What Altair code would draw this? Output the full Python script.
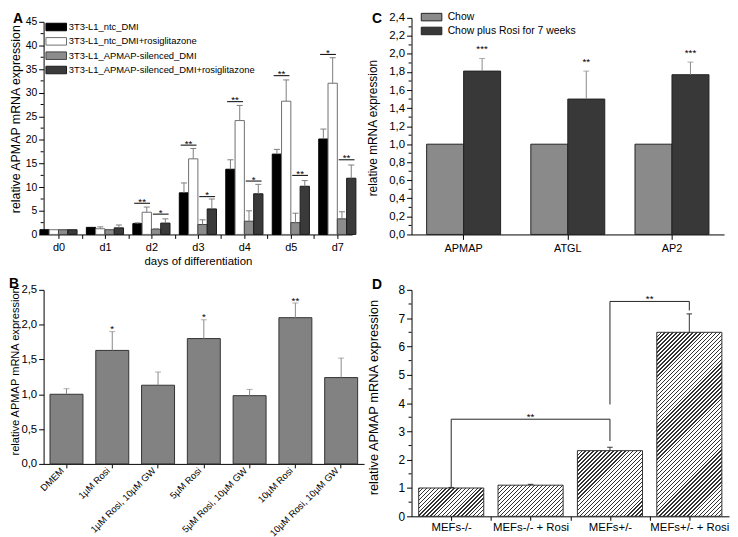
import json
import altair as alt
import pandas as pd

FONT = "Liberation Sans"

# ---------------- Panel A data ----------------
days = ["d0", "d1", "d2", "d3", "d4", "d5", "d7"]
a_series = ["3T3-L1_ntc_DMI", "3T3-L1_ntc_DMI+rosiglitazone",
            "3T3-L1_APMAP-silenced_DMI", "3T3-L1_APMAP-silenced_DMI+rosiglitazone"]
a_ntc_dmi = [1.0, 1.5, 2.3, 8.8, 13.8, 17.0, 20.2]
a_ntc_dmi_err = [0.0, 0.0, 0.15, 2.1, 2.0, 1.0, 2.1]
a_ntc_rosi = [1.0, 1.2, 4.7, 16.0, 24.1, 28.2, 32.0]
a_ntc_rosi_err = [0.0, 0.4, 1.1, 2.2, 3.2, 4.5, 5.4]
a_sil_dmi = [1.0, 1.0, 1.1, 2.1, 2.8, 2.5, 3.3]
a_sil_dmi_err = [0.0, 0.0, 0.1, 1.0, 2.2, 2.0, 1.5]
a_sil_rosi = [1.0, 1.4, 2.4, 5.4, 8.6, 10.2, 11.9]
a_sil_rosi_err = [0.0, 0.6, 0.9, 2.1, 2.0, 1.2, 2.8]
a_sig_day = ["d2", "d2", "d3", "d3", "d4", "d4", "d5", "d5", "d7", "d7"]
a_sig_pair = ["ntc", "sil", "ntc", "sil", "ntc", "sil", "ntc", "sil", "ntc", "sil"]
a_sig_y = [6.6, 4.3, 18.9, 8.0, 28.1, 11.3, 33.6, 12.5, 38.1, 15.8]
a_sig_text = ["**", "*", "**", "*", "**", "*", "**", "**", "*", "**"]
a_yticks = [0, 5, 10, 15, 20, 25, 30, 35, 40, 45]
a_yminor = [2.5, 7.5, 12.5, 17.5, 22.5, 27.5, 32.5, 37.5, 42.5]

# ---------------- Panel B data ----------------
b_cats = ["DMEM", "1µM Rosi", "1µM Rosi, 10µM GW", "5µM Rosi",
          "5µM Rosi, 10µM GW", "10µM Rosi", "10µM Rosi, 10µM GW"]
b_vals = [1.0, 1.63, 1.13, 1.80, 0.98, 2.10, 1.24]
b_err = [0.08, 0.27, 0.19, 0.27, 0.09, 0.21, 0.28]
b_sig = ["", "*", "", "*", "", "**", ""]
b_yticks = [0.0, 0.5, 1.0, 1.5, 2.0, 2.5]

# ---------------- Panel C data ----------------
c_genes = ["APMAP", "ATGL", "AP2"]
c_series = ["Chow", "Chow plus Rosi for 7 weeks"]
c_chow = [1.0, 1.0, 1.0]
c_rosi = [1.81, 1.50, 1.77]
c_rosi_err = [0.14, 0.31, 0.14]
c_sig = ["***", "**", "***"]
c_yticks = [0.0, 0.2, 0.4, 0.6, 0.8, 1.0, 1.2, 1.4, 1.6, 1.8, 2.0, 2.2, 2.4]
c_yminor = [0.1, 0.3, 0.5, 0.7, 0.9, 1.1, 1.3, 1.5, 1.7, 1.9, 2.1, 2.3]

# ---------------- Panel D data ----------------
d_cats = ["MEFs-/-", "MEFs-/- + Rosi", "MEFs+/-", "MEFs+/- + Rosi"]
d_vals = [1.0, 1.1, 2.32, 6.5]
d_err = [0.02, 0.03, 0.12, 0.65]
d_br_from = ["MEFs-/-", "MEFs+/-"]
d_br_to = ["MEFs+/-", "MEFs+/- + Rosi"]
d_br_top = [3.43, 7.59]
d_br_left_bottom = [1.03, 3.95]
d_br_right_bottom = [2.66, 7.27]
d_br_text = ["**", "**"]
d_yticks = [0, 1, 2, 3, 4, 5, 6, 7, 8]
d_yminor = [0.5, 1.5, 2.5, 3.5, 4.5, 5.5, 6.5, 7.5]

COMMA1 = "replace(format(datum.value, '.1f'), '.', ',')"


def letter(t, x, y):
    return alt.Chart(pd.DataFrame({"t": [t]})).mark_text(
        fontSize=14, fontWeight="bold", align="left", baseline="alphabetic", color="#000"
    ).encode(text="t:N", x=alt.value(x), y=alt.value(y))


def minor_layer(vals, yaxis):
    return alt.Chart(pd.DataFrame({"m": vals})).mark_rule(color="#000", strokeWidth=1).encode(
        y=alt.Y("m:Q", axis=yaxis), x=alt.value(-3), x2=alt.value(0))


# ================= Panel A =================
A_W, A_H, A_TOP = 312, 217, 2
a_bw = 0.2
a_vals = [a_ntc_dmi, a_ntc_rosi, a_sil_dmi, a_sil_rosi]
a_errs = [a_ntc_dmi_err, a_ntc_rosi_err, a_sil_dmi_err, a_sil_rosi_err]
a_fill = ["#000000", "#ffffff", "#8c8c8c", "#3a3a3a"]
a_stroke = ["#000000", "#6e6e6e", "#444444", "#1a1a1a"]
rows = []
for k, name in enumerate(a_series):
    for i, d in enumerate(days):
        c = i + (k - 1.5) * a_bw
        v = a_vals[k][i]
        e = a_errs[k][i]
        rows.append(dict(series_a=name, day=d, x0=c - a_bw / 2, x1=c + a_bw / 2, xc=c,
                         c0=c - 0.065, c1=c + 0.065, base=0.0, v=v, e=e, top=v + e))
dfA = pd.DataFrame(rows)
srows = []
for d, p, y, t in zip(a_sig_day, a_sig_pair, a_sig_y, a_sig_text):
    i = days.index(d)
    if p == "ntc":
        x0, x1 = i - 1.85 * a_bw, i - 0.15 * a_bw
    else:
        x0, x1 = i + 0.15 * a_bw, i + 1.85 * a_bw
    srows.append(dict(x0=x0, x1=x1, xm=(x0 + x1) / 2, y=y, t=t))
dfAs = pd.DataFrame(srows)

xA = alt.Scale(domain=[-0.32, 6.32], nice=False, zero=False)
yA = alt.Scale(domain=[0, 45], range=[A_H, A_TOP], nice=False, zero=False)
a_xlabel = "datum.value % 1 === 0 ? " + json.dumps(days) + "[datum.value] : ''"
a_xaxis = alt.Axis(values=[0, 0.5, 1, 1.5, 2, 2.5, 3, 3.5, 4, 4.5, 5, 5.5, 6],
                   labelExpr=a_xlabel, title="days of differentiation", tickSize=4,
                   labelPadding=3, labelFontSize=11, titleFontSize=11.5, titlePadding=3,
                   labelOverlap=False, labelFlush=False)
a_yaxis = alt.Axis(values=a_yticks, title="relative APMAP mRNA expression", tickSize=5,
                   labelPadding=2, labelFontSize=10.5, titleFontSize=12.5,
                   titleX=-21, titleY=100, labelFlush=False)
legA = alt.Legend(title=None, orient="none", legendX=8, legendY=2.5,
                  symbolType="M-2.6,-0.95H2.6V0.95H-2.6Z", symbolSize=64,
                  symbolStrokeColor="#333333", symbolStrokeWidth=1,
                  labelFont=FONT, labelFontSize=9.5, labelOffset=8, rowPadding=1.5,
                  padding=0, labelLimit=400, labelColor="#000")
barsA = alt.Chart(dfA).mark_rect(strokeWidth=1).encode(
    x=alt.X("x0:Q", scale=xA, axis=a_xaxis),
    x2="x1",
    y=alt.Y("v:Q", scale=yA, axis=a_yaxis),
    y2="base",
    fill=alt.Fill("series_a:N", scale=alt.Scale(domain=a_series, range=a_fill), legend=legA),
    stroke=alt.Stroke("series_a:N", scale=alt.Scale(domain=a_series, range=a_stroke), legend=None),
)
errA = alt.Chart(dfA).transform_filter("datum.e > 0").mark_rule(color="#7d7d7d", strokeWidth=1).encode(
    x=alt.X("xc:Q", axis=a_xaxis), y=alt.Y("v:Q", axis=a_yaxis), y2="top")
capA = alt.Chart(dfA).transform_filter("datum.e > 0").mark_rule(color="#7d7d7d", strokeWidth=1).encode(
    x=alt.X("c0:Q", axis=a_xaxis), x2="c1", y=alt.Y("top:Q", axis=a_yaxis))
lineA = alt.Chart(dfAs).mark_rule(color="#000", strokeWidth=1).encode(
    x=alt.X("x0:Q", axis=a_xaxis), x2="x1", y=alt.Y("y:Q", axis=a_yaxis))
starA = alt.Chart(dfAs).mark_text(fontSize=10, baseline="alphabetic", dy=1.7, color="#000").encode(
    x=alt.X("xm:Q", axis=a_xaxis), y=alt.Y("y:Q", axis=a_yaxis), text="t:N")
panelA = alt.layer(barsA, errA, capA, lineA, starA, minor_layer(a_yminor, a_yaxis),
                   letter("A", -31, 3)).properties(width=A_W, height=A_H)

# ================= Panel B =================
B_W, B_H = 324, 176
dfB = pd.DataFrame({"cat": b_cats, "v": b_vals, "e": b_err, "sig": b_sig})
dfB["top"] = dfB["v"] + dfB["e"]
b_xaxis = alt.Axis(title=None, labelAngle=-45, labelFontSize=9.5, tickSize=4, labelPadding=1,
                   labelBaseline="middle", labelAlign="right", labelOffset=-4, labelLimit=300)
b_yaxis = alt.Axis(values=b_yticks, labelExpr=COMMA1, title="relative APMAP mRNA expression",
                   titleX=-23, titleY=82, tickSize=5, labelPadding=2, labelFontSize=11.5,
                   titleFontSize=11.2, labelFlush=False)
bscale = alt.Scale(paddingInner=0.28, paddingOuter=0.14)
xB = alt.X("cat:N", sort=b_cats, scale=bscale, axis=b_xaxis)
yBs = alt.Scale(domain=[0, 2.5], nice=False)
barsB = alt.Chart(dfB).mark_bar(fill="#828282", stroke="#333333", strokeWidth=1).encode(
    x=xB, y=alt.Y("v:Q", scale=yBs, axis=b_yaxis))
errB = alt.Chart(dfB).mark_rule(color="#8a8a8a", strokeWidth=1).encode(
    x=xB, y=alt.Y("v:Q", axis=b_yaxis), y2="top")
capB = alt.Chart(dfB).mark_tick(orient="horizontal", size=6, thickness=1, color="#8a8a8a").encode(
    x=xB, y=alt.Y("top:Q", axis=b_yaxis))
starB = alt.Chart(dfB).mark_text(fontSize=10, baseline="alphabetic", dy=0.5, color="#000").encode(
    x=xB, y=alt.Y("top:Q", axis=b_yaxis), text="sig:N")
panelB = alt.layer(barsB, errB, capB, starB, letter("B", -35, -2)).properties(
    width=B_W, height=B_H)

# ================= Panel C =================
C_W, C_H = 316, 217
c_fill = ["#8a8a8a", "#383838"]
rowsC = []
for g, a, b, e, s in zip(c_genes, c_chow, c_rosi, c_rosi_err, c_sig):
    rowsC.append(dict(gene=g, series_c=c_series[0], v=a, e=0.0, top=a, sig=""))
    rowsC.append(dict(gene=g, series_c=c_series[1], v=b, e=e, top=b + e, sig=s))
dfC = pd.DataFrame(rowsC)
c_xaxis = alt.Axis(title=None, labelAngle=0, labelFontSize=11, tickSize=5, labelPadding=3)
c_yaxis = alt.Axis(values=c_yticks, labelExpr=COMMA1, title="relative mRNA expression",
                   titleX=-32, titleY=109, tickSize=5, labelPadding=2, labelFontSize=11.5,
                   titleFontSize=12, labelFlush=False)
legC = alt.Legend(title=None, orient="none", legendX=15, legendY=-8,
                  symbolType="M-2.6,-0.95H2.6V0.95H-2.6Z", symbolSize=64,
                  symbolStrokeColor="#222222", symbolStrokeWidth=1,
                  labelFont=FONT, labelFontSize=10.5, labelOffset=11, rowPadding=1,
                  padding=0, labelLimit=400, labelColor="#000")
xC = alt.X("gene:N", sort=c_genes, scale=alt.Scale(paddingInner=0.29, paddingOuter=0.145), axis=c_xaxis)
xoC = alt.XOffset("series_c:N", sort=c_series,
                  scale=alt.Scale(domain=c_series, paddingInner=0, paddingOuter=0))
yCs = alt.Scale(domain=[0, 2.4], range=[C_H, -2], nice=False)
barsC = alt.Chart(dfC).mark_bar(stroke="#222222", strokeWidth=1).encode(
    x=xC, xOffset=xoC,
    y=alt.Y("v:Q", scale=yCs, axis=c_yaxis),
    fill=alt.Fill("series_c:N", scale=alt.Scale(domain=c_series, range=c_fill), legend=legC),
)
errC = alt.Chart(dfC).transform_filter("datum.e > 0").mark_rule(color="#8a8a8a", strokeWidth=1).encode(
    x=xC, xOffset=xoC, y=alt.Y("v:Q", axis=c_yaxis), y2="top")
capC = alt.Chart(dfC).transform_filter("datum.e > 0").mark_tick(
    orient="horizontal", size=6, thickness=1, color="#8a8a8a").encode(
    x=xC, xOffset=xoC, y=alt.Y("top:Q", axis=c_yaxis))
starC = alt.Chart(dfC).transform_filter("datum.e > 0").mark_text(
    fontSize=10, baseline="alphabetic", dy=-6.5, color="#000").encode(
    x=xC, xOffset=xoC, y=alt.Y("top:Q", axis=c_yaxis), text="sig:N")
panelC = alt.layer(barsC, errC, capC, starC, minor_layer(c_yminor, c_yaxis),
                   letter("C", -40, 3)).properties(width=C_W, height=C_H)

# ================= Panel D =================
D_W, D_H = 321, 229
d_half = 0.41
d_unit_px = D_W / 4.0
d_bar_px = 2 * d_half * d_unit_px
rowsD = []
for i, (cname, v, e) in enumerate(zip(d_cats, d_vals, d_err)):
    rowsD.append(dict(i=i, cat=cname, x0=i - d_half, x1=i + d_half, xc=i,
                      c0=i - 0.035, c1=i + 0.035, base=0.0, v=v, top=v + e))
dfD = pd.DataFrame(rowsD)
brows = []
for f, t, top, lb, rb, s in zip(d_br_from, d_br_to, d_br_top, d_br_left_bottom,
                                d_br_right_bottom, d_br_text):
    fi, ti = d_cats.index(f), d_cats.index(t)
    brows.append(dict(xf=fi, xt=ti, xm=(fi + ti) / 2, top=top, lb=lb, rb=rb, s=s))
dfDb = pd.DataFrame(brows)

xD = alt.Scale(domain=[-0.5, 3.5], nice=False, zero=False)
yD = alt.Scale(domain=[0, 8], nice=False)
d_xlabel = "datum.value % 1 === 0 ? " + json.dumps(d_cats) + "[datum.value] : ''"
d_xaxis = alt.Axis(values=[0, 0.5, 1, 1.5, 2, 2.5, 3], labelExpr=d_xlabel, title=None,
                   tickSize=4, labelPadding=1, labelFontSize=11.5, labelOverlap=False,
                   labelFlush=False)
d_yaxis = alt.Axis(values=d_yticks, title="relative APMAP mRNA expression", titleX=-31,
                   titleY=108.5, tickSize=5, labelPadding=2, labelFontSize=12,
                   titleFontSize=13, labelFlush=False)


def hatch(h_px, w_px=d_bar_px, period=4.0, frac=0.36, ink="#333333", paper="#ffffff"):
    s = w_px + h_px
    n = max(1, int(round(s / period)))
    stops = []
    for k in range(n):
        a = k / n
        b = (k + frac) / n
        c = (k + 1) / n
        stops += [alt.GradientStop(offset=a, color=ink), alt.GradientStop(offset=b, color=ink),
                  alt.GradientStop(offset=b, color=paper), alt.GradientStop(offset=c, color=paper)]
    norm = w_px ** 2 + h_px ** 2
    return alt.LinearGradient(gradient="linear", stops=stops, x1=0, y1=0,
                              x2=w_px * s / norm, y2=h_px * s / norm)


d_layers = []
for i, v in enumerate(d_vals):
    h_px = v * D_H / 8.0
    d_layers.append(
        alt.Chart(dfD).transform_filter(f"datum.i == {i}").mark_rect(
            fill=hatch(h_px), stroke="#333333", strokeWidth=1).encode(
            x=alt.X("x0:Q", scale=xD, axis=d_xaxis),
            x2="x1",
            y=alt.Y("v:Q", scale=yD, axis=d_yaxis),
            y2="base"))
errD = alt.Chart(dfD).mark_rule(color="#333333", strokeWidth=1).encode(
    x=alt.X("xc:Q", axis=d_xaxis), y=alt.Y("v:Q", axis=d_yaxis), y2="top")
capD = alt.Chart(dfD).mark_rule(color="#333333", strokeWidth=1).encode(
    x=alt.X("c0:Q", axis=d_xaxis), x2="c1", y=alt.Y("top:Q", axis=d_yaxis))
brH = alt.Chart(dfDb).mark_rule(color="#222222", strokeWidth=1).encode(
    x=alt.X("xf:Q", axis=d_xaxis), x2="xt", y=alt.Y("top:Q", axis=d_yaxis))
brL = alt.Chart(dfDb).mark_rule(color="#222222", strokeWidth=1).encode(
    x=alt.X("xf:Q", axis=d_xaxis), y=alt.Y("lb:Q", axis=d_yaxis), y2="top")
brR = alt.Chart(dfDb).mark_rule(color="#222222", strokeWidth=1).encode(
    x=alt.X("xt:Q", axis=d_xaxis), y=alt.Y("rb:Q", axis=d_yaxis), y2="top")
brS = alt.Chart(dfDb).mark_text(fontSize=10, baseline="alphabetic", dy=1, color="#000").encode(
    x=alt.X("xm:Q", axis=d_xaxis), y=alt.Y("top:Q", axis=d_yaxis), text="s:N")
panelD = alt.layer(*d_layers, errD, capD, brH, brL, brR, brS, minor_layer(d_yminor, d_yaxis),
                   letter("D", -40, -1)).properties(width=D_W, height=D_H)

chart = alt.concat(panelA, panelC, panelB, panelD, columns=2,
                   spacing={"row": 56, "column": 48}, bounds="flush").resolve_scale(
    fill="independent", stroke="independent").properties(padding=0).configure(
    font=FONT).configure_view(stroke="transparent").configure_axis(
    grid=False, domainColor="#000", tickColor="#000", labelColor="#000", titleColor="#000",
    labelFont=FONT, titleFont=FONT, titleFontWeight="normal", domainWidth=1, tickWidth=1
).configure_text(font=FONT)

chart.save("out.html", embed_options={"renderer": "svg", "actions": False})
